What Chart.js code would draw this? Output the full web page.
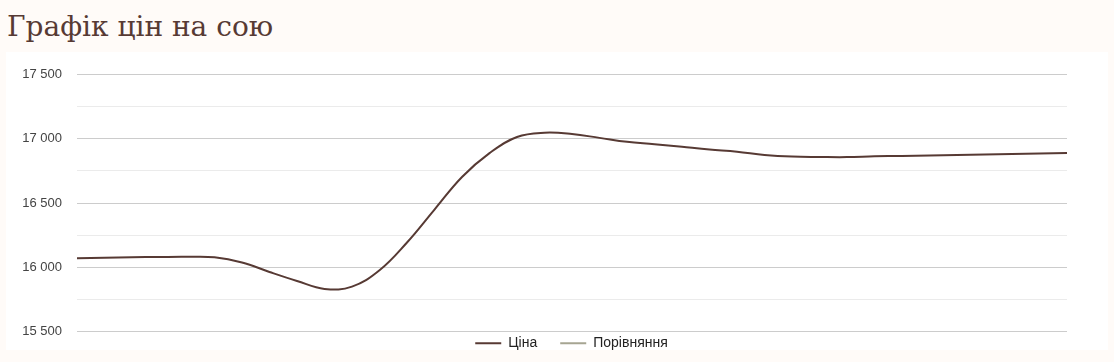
<!DOCTYPE html>
<html>
<head>
<meta charset="utf-8">
<script src="https://cdn.jsdelivr.net/npm/chart.js"></script>
<style>
  html, body { margin: 0; padding: 0; background: #fffbf8; width: 1114px; height: 362px; overflow: hidden; }
  h1 { position: absolute; left: 7px; top: 9px; margin: 0; font-family: "DejaVu Serif", serif; font-weight: normal; font-size: 28px; line-height: 36px; color: #573a34; }
  #box { position: absolute; left: 6px; top: 52px; width: 1102px; height: 298px; background: #ffffff; }
  #c { position: absolute; left: 0; top: 0; }
</style>
</head>
<body>
<h1>Графік цін на сою</h1>
<div id="box"><canvas id="c" width="1102" height="302"></canvas></div>
<script>
const categories = ["1","2","3","4","5","6","7","8","9","10","11","12","13","14","15","16","17","18","19","20","21","22","23","24","25","26","27","28","29","30","31","32","33","34","35","36","37"];
const priceValues = [16069, 16073, 16077, 16079, 16080, 16076, 16036, 15962, 15892, 15830, 15848, 15975, 16192, 16449, 16703, 16889, 17015, 17048, 17038, 17008, 16977, 16959, 16938, 16917, 16900, 16875, 16862, 16859, 16858, 16864, 16867, 16871, 16875, 16879, 16882, 16886, 16890];
const compareValues = [];
const yTicks = { min: 15500, max: 17500, step: 250 };

function fmt(v) { return String(v).replace(/\B(?=(\d{3})+(?!\d))/g, ' '); }

const LEGEND_SHIFT_Y = 18;
const LEGEND_SHIFT_X = 35;

const chart = new Chart(document.getElementById('c'), {
  type: 'line',
  data: {
    labels: categories,
    datasets: [
      { label: 'Ціна', data: priceValues, borderColor: '#573a34', backgroundColor: '#573a34', borderWidth: 2, pointRadius: 0, tension: 0.4, fill: false },
      { label: 'Порівняння', data: compareValues, borderColor: '#a6a592', backgroundColor: '#a6a592', borderWidth: 2, pointRadius: 0, tension: 0.4, fill: false }
    ]
  },
  options: {
    responsive: false,
    animation: false,
    layout: { padding: { left: 0, right: 41, top: 18, bottom: 0 } },
    plugins: {
      tooltip: { enabled: false },
      legend: {
        position: 'bottom',
        labels: { usePointStyle: true, pointStyle: 'line', pointStyleWidth: 26, padding: 23, boxHeight: 14,
          font: { family: 'Liberation Sans, Arial, sans-serif', size: 14 }, color: '#222222' }
      }
    },
    scales: {
      x: { display: false, offset: false },
      y: {
        min: yTicks.min, max: yTicks.max,
        afterFit: (s) => { s.width = 71; },
        border: { display: false },
        grid: { drawTicks: false, color: (ctx) => (ctx.tick && ctx.tick.value % 500 === 0) ? '#cccccc' : '#ebebeb', lineWidth: 1 },
        ticks: { stepSize: yTicks.step, padding: 15, color: '#444444',
          font: { family: 'Liberation Sans, Arial, sans-serif', size: 13 },
          callback: (v) => (v % 500 === 0 ? fmt(v) : '') }
      }
    }
  }
});

// compact legend: keep horizontal spacing, tighten its vertical footprint
const lg = chart.legend;
const origFit = lg.fit.bind(lg);
lg.fit = function () { origFit(); this.height = 15; };
const origDraw = lg.draw.bind(lg);
lg.draw = function (area) {
  this.top -= LEGEND_SHIFT_Y; this.bottom += 20;
  this.left += LEGEND_SHIFT_X; this.right += LEGEND_SHIFT_X;
  origDraw(area);
  this.top += LEGEND_SHIFT_Y; this.bottom -= 20;
  this.left -= LEGEND_SHIFT_X; this.right -= LEGEND_SHIFT_X;
};
chart.update();
</script>
</body>
</html>
